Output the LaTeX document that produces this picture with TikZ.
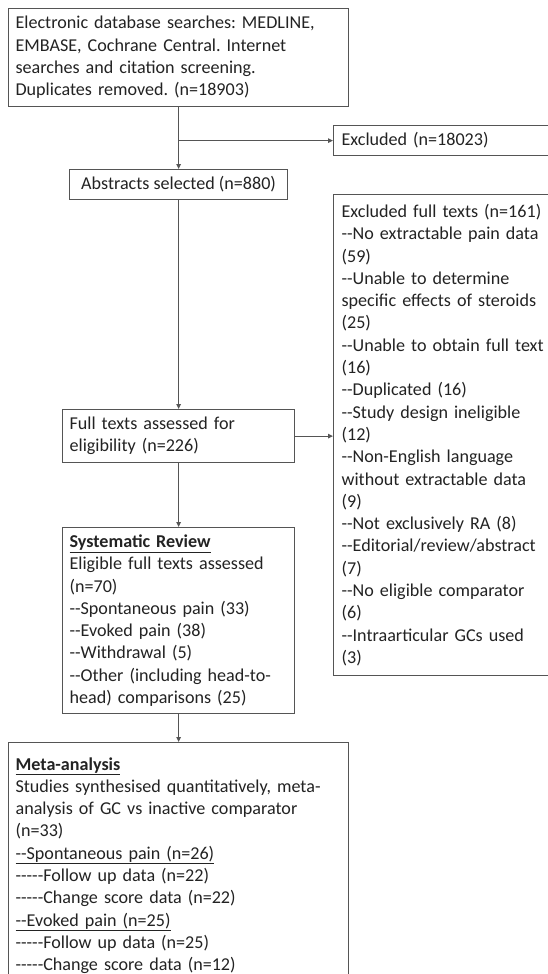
\documentclass[tikz,border=0pt]{standalone}
\usepackage{fontspec}
\setmainfont{Carlito}[Ligatures=TeXOff]
\usepackage{xcolor}
\usetikzlibrary{positioning, arrows.meta, calc}
\definecolor{FlowLine}{RGB}{85,85,85}
\definecolor{FlowText}{RGB}{35,35,35}
\frenchspacing

\begin{document}
\begin{tikzpicture}[x=1pt, y=-1pt,
          flowbox/.style={rectangle, draw=FlowLine, line width=1.2pt, fill=white,
                          anchor=north west, inner xsep=7pt, inner ysep=0pt,
                          text=FlowText, align=left,
                          font=\fontsize{18.1}{22.3}\selectfont},
          arr/.style={-{Triangle[length=5pt, width=4.5pt]}, line width=1.2pt, FlowLine}
        ]
        \useasboundingbox (0,0) rectangle (548,974);
        \clip (0,0) rectangle (548,974);

        % Main column
        \node[flowbox, text width=326pt, minimum height=98pt] (src) at (8,8)
              {Electronic database searches: MEDLINE,\\EMBASE, Cochrane Central. Internet\\searches and citation screening.\\Duplicates removed. (n=18903)};
        \node[flowbox, minimum width=218pt, minimum height=30pt] (abs) at (69,169)
              {Abstracts selected (n=880)};
        \node[flowbox, text width=218pt, minimum height=53pt] (full) at (62,409)
              {Full texts assessed for\\eligibility (n=226)};
        \node[flowbox, text width=218pt, minimum height=186pt] (sysrev) at (62,527)
              {\textbf{\underline{Systematic Review}}\\Eligible full texts assessed\\(n=70)\\--Spontaneous pain (33)\\--Evoked pain (38)\\--Withdrawal (5)\\--Other (including head-to-\\head) comparisons (25)};
        \node[flowbox, text width=326pt, minimum height=246pt] (meta) at (8,742)
              {\textbf{\underline{Meta-analysis}}\\Studies synthesised quantitatively, meta-\\analysis of GC vs inactive comparator\\(n=33)\\\underline{--Spontaneous pain (n=26)}\\-----Follow up data (n=22)\\-----Change score data (n=22)\\\underline{--Evoked pain (n=25)}\\-----Follow up data (n=25)\\-----Change score data (n=12)};

        % Exclusions
        \node[flowbox, inner xsep=8pt, text width=212pt, minimum height=30pt] (excl) at (333,125)
              {Excluded (n=18023)};
        \node[flowbox, inner xsep=8pt, text width=212pt, minimum height=481pt] (exclft) at (333,194)
              {Excluded full texts (n=161)\\--No extractable pain data\\(59)\\--Unable to determine\\specific effects of steroids\\(25)\\--Unable to obtain full text\\(16)\\--Duplicated (16)\\--Study design ineligible\\(12)\\--Non-English language\\without extractable data\\(9)\\--Not exclusively RA (8)\\--Editorial/review/abstract\\(7)\\--No eligible comparator\\(6)\\--Intraarticular GCs used\\(3)};

        % Arrows
        \coordinate (split) at (src.south |- excl.west);
        \draw[arr] (src)    -- (abs);
        \draw[arr] (split)  -- (excl.west);
        \draw[arr] (abs)    -- (full);
        \draw[arr] (full.east) -- (full.east -| exclft.west);
        \draw[arr] (full)   -- (sysrev);
        \draw[arr] (sysrev) -- (meta);
      \end{tikzpicture}
\end{document}
